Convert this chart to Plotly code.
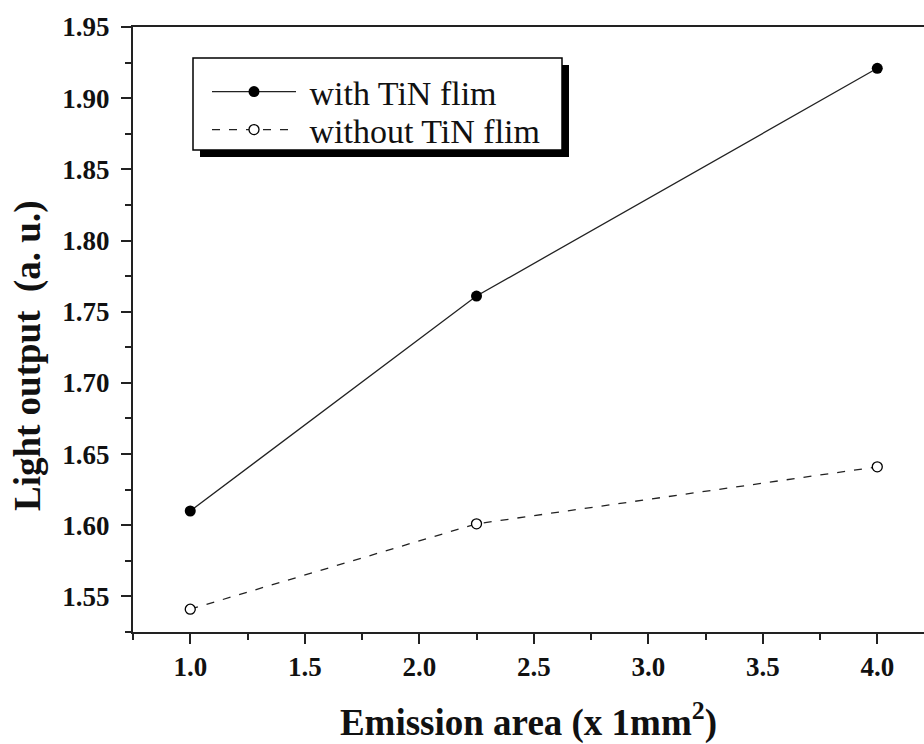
import plotly.graph_objects as go

area = [1.0, 2.25, 4.0]
with_tin = [1.61, 1.761, 1.921]
without_tin = [1.541, 1.601, 1.641]
x_ticks = [1.0, 1.5, 2.0, 2.5, 3.0, 3.5, 4.0]
y_ticks = [1.55, 1.60, 1.65, 1.70, 1.75, 1.80, 1.85, 1.90, 1.95]

SERIF = "Liberation Serif"

W, H = 924, 744
L, R, T, B = 133, 0, 27, 112
pw, ph = W - L - R, H - T - B


def px2paper(x, y):
    """window pixel -> paper coords"""
    return (x - L) / pw, (H - B - y) / ph


fig = go.Figure()
fig.add_trace(go.Scatter(
    x=area, y=with_tin, mode="lines+markers", name="\u00a0with TiN flim",
    line=dict(color="#222", width=1.3),
    marker=dict(symbol="circle", size=11, color="black"),
    legend="legend",
))
fig.add_trace(go.Scatter(
    x=area, y=without_tin, mode="lines+markers", name="\u00a0without TiN flim",
    line=dict(color="#222", width=1.3, dash="8px,9px"),
    marker=dict(symbol="circle", size=10, color="white", line=dict(width=1.3, color="black")),
    legend="legend2",
))

# legend frame and shadow (window pixel positions)
bx0, by0, bx1, by1 = 193, 58, 562, 150
sh = 7
sx0, sy0 = px2paper(bx0 + sh, by1 + sh)
sx1, sy1 = px2paper(bx1 + sh, by0 + sh)
fig.add_shape(type="rect", xref="paper", yref="paper", x0=sx0, y0=sy0, x1=sx1, y1=sy1,
              fillcolor="black", line=dict(width=0), layer="above")
fx0, fy0 = px2paper(bx0, by1)
fx1, fy1 = px2paper(bx1, by0)
fig.add_shape(type="rect", xref="paper", yref="paper", x0=fx0, y0=fy0, x1=fx1, y1=fy1,
              fillcolor="white", line=dict(color="black", width=1.5), layer="above")

l1x, l1y = px2paper(207, 92)
l2x, l2y = px2paper(207, 130)
leg_common = dict(
    xanchor="left", yanchor="middle",
    bgcolor="rgba(0,0,0,0)", borderwidth=0,
    font=dict(family=SERIF, size=34, color="#111"),
    itemwidth=84,
)

# y-axis title as annotation (placed where the reference has it)
tx, ty = px2paper(28, 356)
fig.add_annotation(
    text="<b>Light output\u00a0\u00a0(a. u.)</b>", textangle=-90,
    xref="paper", yref="paper", x=tx, y=ty, xanchor="center", yanchor="middle",
    showarrow=False, font=dict(family=SERIF, size=37, color="#111"),
)

axis_common = dict(
    showgrid=False, zeroline=False, showline=True, linecolor="#222", linewidth=2,
    ticks="outside", ticklen=10, tickwidth=2, tickcolor="#222",
    tickfont=dict(family=SERIF, size=27, color="#111"),
    automargin=False,
)

fig.update_layout(
    width=W, height=H,
    margin=dict(l=L, r=R, t=T, b=B),
    paper_bgcolor="white", plot_bgcolor="white",
    showlegend=True,
    legend=dict(x=l1x, y=l1y, **leg_common),
    legend2=dict(x=l2x, y=l2y, **leg_common),
    xaxis=dict(
        **axis_common,
        range=[0.75, 4.204],
        tickvals=x_ticks, ticktext=[f"<b>{v:.1f}</b>" for v in x_ticks],
        minor=dict(dtick=0.25, tick0=0.75, ticks="outside", ticklen=6, tickwidth=2, tickcolor="#222"),
        mirror=True,
        title=dict(text="<b>Emission area (x 1mm<sup>2</sup>)</b>", standoff=30,
                   font=dict(family=SERIF, size=37, color="#111")),
    ),
    yaxis=dict(
        **axis_common,
        range=[1.525, 1.95],
        tickvals=y_ticks, ticktext=[f"<b>{v:.2f}</b>" for v in y_ticks],
        ticklabelstandoff=6,
        minor=dict(dtick=0.025, tick0=1.525, ticks="outside", ticklen=6, tickwidth=2, tickcolor="#222"),
    ),
)

fig.write_html(
    "out.html",
    config={"displayModeBar": False},
    post_script="document.body.style.margin='0';document.body.style.overflow='hidden';",
)
